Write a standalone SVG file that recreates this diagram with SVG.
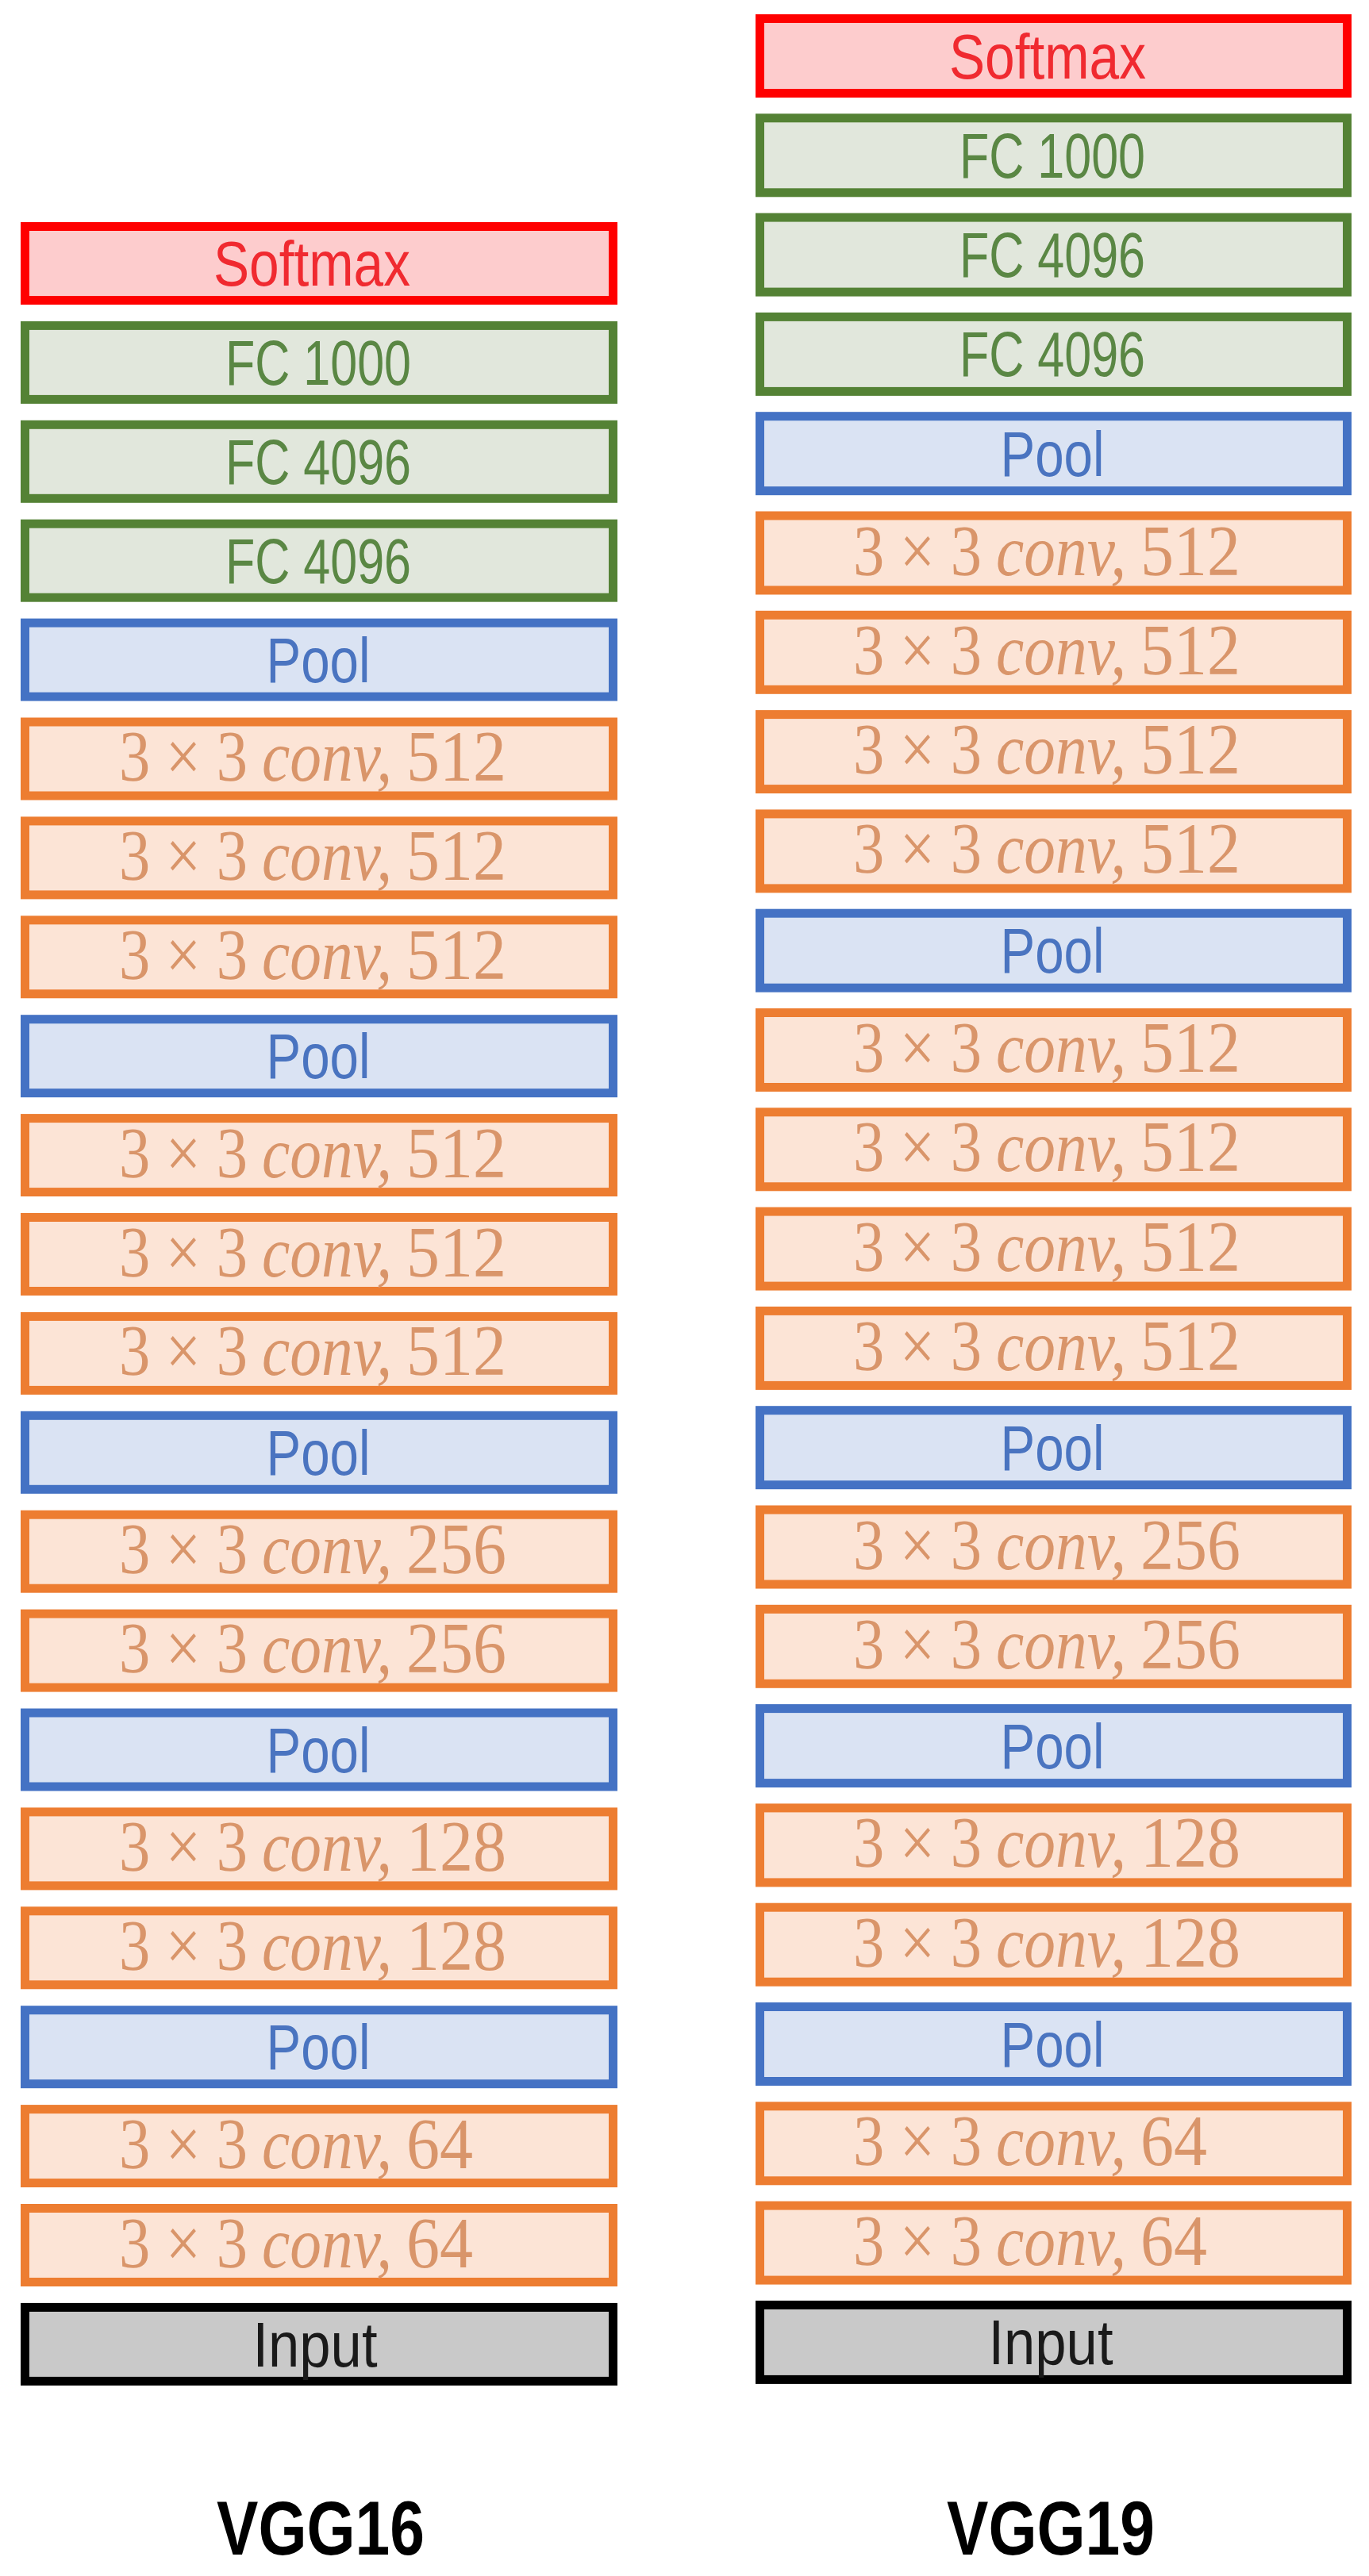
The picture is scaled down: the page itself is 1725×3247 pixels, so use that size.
<svg xmlns="http://www.w3.org/2000/svg" width="1725" height="3247" viewBox="0 0 1725 3247">
<style>
rect{stroke-width:11}
.sm{fill:#fdcccd;stroke:#ff0000}
.fc{fill:#e1e7dc;stroke:#548235}
.pl{fill:#dae3f3;stroke:#4472c4}
.cv{fill:#fce4d6;stroke:#ed7d31}
.in{fill:#c9c9c9;stroke:#000000}
text{font-family:"Liberation Sans",Arial,sans-serif;font-size:79px;text-anchor:middle}
.tsm{fill:#f02a30}
.tfc{fill:#5a8744}
.tpl{fill:#4a74c0}
.tin{fill:#1a1a1a}
.tcv{font-family:"Liberation Serif","Times New Roman",serif;font-size:90px;text-anchor:start;fill:#d9956a}
.it{font-style:italic}
.title{font-weight:bold;font-size:97px;fill:#000}
</style>
<rect width="1725" height="3247" fill="#ffffff" stroke="none"/>
<g id="vgg16">
<g id="l0"><rect class="sm" x="31.5" y="285.5" width="741" height="93"/><text class="tsm" x="393" y="360" textLength="248" lengthAdjust="spacingAndGlyphs">Softmax</text></g>
<g id="l1"><rect class="fc" x="31.5" y="410.4" width="741" height="93"/><text class="tfc" x="401" y="484.9" textLength="234" lengthAdjust="spacingAndGlyphs">FC 1000</text></g>
<g id="l2"><rect class="fc" x="31.5" y="535.3" width="741" height="93"/><text class="tfc" x="401" y="609.8" textLength="234" lengthAdjust="spacingAndGlyphs">FC 4096</text></g>
<g id="l3"><rect class="fc" x="31.5" y="660.2" width="741" height="93"/><text class="tfc" x="401" y="734.7" textLength="234" lengthAdjust="spacingAndGlyphs">FC 4096</text></g>
<g id="l4"><rect class="pl" x="31.5" y="785.1" width="741" height="93"/><text class="tpl" x="401" y="859.6" textLength="131" lengthAdjust="spacingAndGlyphs">Pool</text></g>
<g id="l5"><rect class="cv" x="31.5" y="910" width="741" height="93"/><text class="tcv" x="150" y="984" textLength="162" lengthAdjust="spacingAndGlyphs">3 × 3</text><text class="tcv it" x="330" y="984" textLength="164" lengthAdjust="spacingAndGlyphs">conv,</text><text class="tcv" x="512" y="984" textLength="126" lengthAdjust="spacingAndGlyphs">512</text></g>
<g id="l6"><rect class="cv" x="31.5" y="1034.9" width="741" height="93"/><text class="tcv" x="150" y="1108.9" textLength="162" lengthAdjust="spacingAndGlyphs">3 × 3</text><text class="tcv it" x="330" y="1108.9" textLength="164" lengthAdjust="spacingAndGlyphs">conv,</text><text class="tcv" x="512" y="1108.9" textLength="126" lengthAdjust="spacingAndGlyphs">512</text></g>
<g id="l7"><rect class="cv" x="31.5" y="1159.8" width="741" height="93"/><text class="tcv" x="150" y="1233.8" textLength="162" lengthAdjust="spacingAndGlyphs">3 × 3</text><text class="tcv it" x="330" y="1233.8" textLength="164" lengthAdjust="spacingAndGlyphs">conv,</text><text class="tcv" x="512" y="1233.8" textLength="126" lengthAdjust="spacingAndGlyphs">512</text></g>
<g id="l8"><rect class="pl" x="31.5" y="1284.7" width="741" height="93"/><text class="tpl" x="401" y="1359.2" textLength="131" lengthAdjust="spacingAndGlyphs">Pool</text></g>
<g id="l9"><rect class="cv" x="31.5" y="1409.6" width="741" height="93"/><text class="tcv" x="150" y="1483.6" textLength="162" lengthAdjust="spacingAndGlyphs">3 × 3</text><text class="tcv it" x="330" y="1483.6" textLength="164" lengthAdjust="spacingAndGlyphs">conv,</text><text class="tcv" x="512" y="1483.6" textLength="126" lengthAdjust="spacingAndGlyphs">512</text></g>
<g id="l10"><rect class="cv" x="31.5" y="1534.5" width="741" height="93"/><text class="tcv" x="150" y="1608.5" textLength="162" lengthAdjust="spacingAndGlyphs">3 × 3</text><text class="tcv it" x="330" y="1608.5" textLength="164" lengthAdjust="spacingAndGlyphs">conv,</text><text class="tcv" x="512" y="1608.5" textLength="126" lengthAdjust="spacingAndGlyphs">512</text></g>
<g id="l11"><rect class="cv" x="31.5" y="1659.4" width="741" height="93"/><text class="tcv" x="150" y="1733.4" textLength="162" lengthAdjust="spacingAndGlyphs">3 × 3</text><text class="tcv it" x="330" y="1733.4" textLength="164" lengthAdjust="spacingAndGlyphs">conv,</text><text class="tcv" x="512" y="1733.4" textLength="126" lengthAdjust="spacingAndGlyphs">512</text></g>
<g id="l12"><rect class="pl" x="31.5" y="1784.3" width="741" height="93"/><text class="tpl" x="401" y="1858.8" textLength="131" lengthAdjust="spacingAndGlyphs">Pool</text></g>
<g id="l13"><rect class="cv" x="31.5" y="1909.2" width="741" height="93"/><text class="tcv" x="150" y="1983.2" textLength="162" lengthAdjust="spacingAndGlyphs">3 × 3</text><text class="tcv it" x="330" y="1983.2" textLength="164" lengthAdjust="spacingAndGlyphs">conv,</text><text class="tcv" x="512" y="1983.2" textLength="126" lengthAdjust="spacingAndGlyphs">256</text></g>
<g id="l14"><rect class="cv" x="31.5" y="2034.1" width="741" height="93"/><text class="tcv" x="150" y="2108.1" textLength="162" lengthAdjust="spacingAndGlyphs">3 × 3</text><text class="tcv it" x="330" y="2108.1" textLength="164" lengthAdjust="spacingAndGlyphs">conv,</text><text class="tcv" x="512" y="2108.1" textLength="126" lengthAdjust="spacingAndGlyphs">256</text></g>
<g id="l15"><rect class="pl" x="31.5" y="2159" width="741" height="93"/><text class="tpl" x="401" y="2233.5" textLength="131" lengthAdjust="spacingAndGlyphs">Pool</text></g>
<g id="l16"><rect class="cv" x="31.5" y="2283.9" width="741" height="93"/><text class="tcv" x="150" y="2357.9" textLength="162" lengthAdjust="spacingAndGlyphs">3 × 3</text><text class="tcv it" x="330" y="2357.9" textLength="164" lengthAdjust="spacingAndGlyphs">conv,</text><text class="tcv" x="512" y="2357.9" textLength="126" lengthAdjust="spacingAndGlyphs">128</text></g>
<g id="l17"><rect class="cv" x="31.5" y="2408.8" width="741" height="93"/><text class="tcv" x="150" y="2482.8" textLength="162" lengthAdjust="spacingAndGlyphs">3 × 3</text><text class="tcv it" x="330" y="2482.8" textLength="164" lengthAdjust="spacingAndGlyphs">conv,</text><text class="tcv" x="512" y="2482.8" textLength="126" lengthAdjust="spacingAndGlyphs">128</text></g>
<g id="l18"><rect class="pl" x="31.5" y="2533.7" width="741" height="93"/><text class="tpl" x="401" y="2608.2" textLength="131" lengthAdjust="spacingAndGlyphs">Pool</text></g>
<g id="l19"><rect class="cv" x="31.5" y="2658.6" width="741" height="93"/><text class="tcv" x="150" y="2732.6" textLength="162" lengthAdjust="spacingAndGlyphs">3 × 3</text><text class="tcv it" x="330" y="2732.6" textLength="164" lengthAdjust="spacingAndGlyphs">conv,</text><text class="tcv" x="512" y="2732.6" textLength="84" lengthAdjust="spacingAndGlyphs">64</text></g>
<g id="l20"><rect class="cv" x="31.5" y="2783.5" width="741" height="93"/><text class="tcv" x="150" y="2857.5" textLength="162" lengthAdjust="spacingAndGlyphs">3 × 3</text><text class="tcv it" x="330" y="2857.5" textLength="164" lengthAdjust="spacingAndGlyphs">conv,</text><text class="tcv" x="512" y="2857.5" textLength="84" lengthAdjust="spacingAndGlyphs">64</text></g>
<g id="l21"><rect class="in" x="31.5" y="2908.4" width="741" height="93"/><text class="tin" x="397" y="2982.9" textLength="157" lengthAdjust="spacingAndGlyphs">Input</text></g>
</g>
<g id="vgg19">
<g id="r0"><rect class="sm" x="957.5" y="23.5" width="740" height="94"/><text class="tsm" x="1320" y="98.5" textLength="248" lengthAdjust="spacingAndGlyphs">Softmax</text></g>
<g id="r1"><rect class="fc" x="957.5" y="148.8" width="740" height="94"/><text class="tfc" x="1326" y="223.8" textLength="234" lengthAdjust="spacingAndGlyphs">FC 1000</text></g>
<g id="r2"><rect class="fc" x="957.5" y="274.1" width="740" height="94"/><text class="tfc" x="1326" y="349.1" textLength="234" lengthAdjust="spacingAndGlyphs">FC 4096</text></g>
<g id="r3"><rect class="fc" x="957.5" y="399.4" width="740" height="94"/><text class="tfc" x="1326" y="474.4" textLength="234" lengthAdjust="spacingAndGlyphs">FC 4096</text></g>
<g id="r4"><rect class="pl" x="957.5" y="524.7" width="740" height="94"/><text class="tpl" x="1326" y="599.7" textLength="131" lengthAdjust="spacingAndGlyphs">Pool</text></g>
<g id="r5"><rect class="cv" x="957.5" y="650" width="740" height="94"/><text class="tcv" x="1075" y="724.5" textLength="162" lengthAdjust="spacingAndGlyphs">3 × 3</text><text class="tcv it" x="1255" y="724.5" textLength="164" lengthAdjust="spacingAndGlyphs">conv,</text><text class="tcv" x="1437" y="724.5" textLength="126" lengthAdjust="spacingAndGlyphs">512</text></g>
<g id="r6"><rect class="cv" x="957.5" y="775.3" width="740" height="94"/><text class="tcv" x="1075" y="849.8" textLength="162" lengthAdjust="spacingAndGlyphs">3 × 3</text><text class="tcv it" x="1255" y="849.8" textLength="164" lengthAdjust="spacingAndGlyphs">conv,</text><text class="tcv" x="1437" y="849.8" textLength="126" lengthAdjust="spacingAndGlyphs">512</text></g>
<g id="r7"><rect class="cv" x="957.5" y="900.6" width="740" height="94"/><text class="tcv" x="1075" y="975.1" textLength="162" lengthAdjust="spacingAndGlyphs">3 × 3</text><text class="tcv it" x="1255" y="975.1" textLength="164" lengthAdjust="spacingAndGlyphs">conv,</text><text class="tcv" x="1437" y="975.1" textLength="126" lengthAdjust="spacingAndGlyphs">512</text></g>
<g id="r8"><rect class="cv" x="957.5" y="1025.9" width="740" height="94"/><text class="tcv" x="1075" y="1100.4" textLength="162" lengthAdjust="spacingAndGlyphs">3 × 3</text><text class="tcv it" x="1255" y="1100.4" textLength="164" lengthAdjust="spacingAndGlyphs">conv,</text><text class="tcv" x="1437" y="1100.4" textLength="126" lengthAdjust="spacingAndGlyphs">512</text></g>
<g id="r9"><rect class="pl" x="957.5" y="1151.2" width="740" height="94"/><text class="tpl" x="1326" y="1226.2" textLength="131" lengthAdjust="spacingAndGlyphs">Pool</text></g>
<g id="r10"><rect class="cv" x="957.5" y="1276.5" width="740" height="94"/><text class="tcv" x="1075" y="1351" textLength="162" lengthAdjust="spacingAndGlyphs">3 × 3</text><text class="tcv it" x="1255" y="1351" textLength="164" lengthAdjust="spacingAndGlyphs">conv,</text><text class="tcv" x="1437" y="1351" textLength="126" lengthAdjust="spacingAndGlyphs">512</text></g>
<g id="r11"><rect class="cv" x="957.5" y="1401.8" width="740" height="94"/><text class="tcv" x="1075" y="1476.3" textLength="162" lengthAdjust="spacingAndGlyphs">3 × 3</text><text class="tcv it" x="1255" y="1476.3" textLength="164" lengthAdjust="spacingAndGlyphs">conv,</text><text class="tcv" x="1437" y="1476.3" textLength="126" lengthAdjust="spacingAndGlyphs">512</text></g>
<g id="r12"><rect class="cv" x="957.5" y="1527.1" width="740" height="94"/><text class="tcv" x="1075" y="1601.6" textLength="162" lengthAdjust="spacingAndGlyphs">3 × 3</text><text class="tcv it" x="1255" y="1601.6" textLength="164" lengthAdjust="spacingAndGlyphs">conv,</text><text class="tcv" x="1437" y="1601.6" textLength="126" lengthAdjust="spacingAndGlyphs">512</text></g>
<g id="r13"><rect class="cv" x="957.5" y="1652.4" width="740" height="94"/><text class="tcv" x="1075" y="1726.9" textLength="162" lengthAdjust="spacingAndGlyphs">3 × 3</text><text class="tcv it" x="1255" y="1726.9" textLength="164" lengthAdjust="spacingAndGlyphs">conv,</text><text class="tcv" x="1437" y="1726.9" textLength="126" lengthAdjust="spacingAndGlyphs">512</text></g>
<g id="r14"><rect class="pl" x="957.5" y="1777.7" width="740" height="94"/><text class="tpl" x="1326" y="1852.7" textLength="131" lengthAdjust="spacingAndGlyphs">Pool</text></g>
<g id="r15"><rect class="cv" x="957.5" y="1903" width="740" height="94"/><text class="tcv" x="1075" y="1977.5" textLength="162" lengthAdjust="spacingAndGlyphs">3 × 3</text><text class="tcv it" x="1255" y="1977.5" textLength="164" lengthAdjust="spacingAndGlyphs">conv,</text><text class="tcv" x="1437" y="1977.5" textLength="126" lengthAdjust="spacingAndGlyphs">256</text></g>
<g id="r16"><rect class="cv" x="957.5" y="2028.3" width="740" height="94"/><text class="tcv" x="1075" y="2102.8" textLength="162" lengthAdjust="spacingAndGlyphs">3 × 3</text><text class="tcv it" x="1255" y="2102.8" textLength="164" lengthAdjust="spacingAndGlyphs">conv,</text><text class="tcv" x="1437" y="2102.8" textLength="126" lengthAdjust="spacingAndGlyphs">256</text></g>
<g id="r17"><rect class="pl" x="957.5" y="2153.6" width="740" height="94"/><text class="tpl" x="1326" y="2228.6" textLength="131" lengthAdjust="spacingAndGlyphs">Pool</text></g>
<g id="r18"><rect class="cv" x="957.5" y="2278.9" width="740" height="94"/><text class="tcv" x="1075" y="2353.4" textLength="162" lengthAdjust="spacingAndGlyphs">3 × 3</text><text class="tcv it" x="1255" y="2353.4" textLength="164" lengthAdjust="spacingAndGlyphs">conv,</text><text class="tcv" x="1437" y="2353.4" textLength="126" lengthAdjust="spacingAndGlyphs">128</text></g>
<g id="r19"><rect class="cv" x="957.5" y="2404.2" width="740" height="94"/><text class="tcv" x="1075" y="2478.7" textLength="162" lengthAdjust="spacingAndGlyphs">3 × 3</text><text class="tcv it" x="1255" y="2478.7" textLength="164" lengthAdjust="spacingAndGlyphs">conv,</text><text class="tcv" x="1437" y="2478.7" textLength="126" lengthAdjust="spacingAndGlyphs">128</text></g>
<g id="r20"><rect class="pl" x="957.5" y="2529.5" width="740" height="94"/><text class="tpl" x="1326" y="2604.5" textLength="131" lengthAdjust="spacingAndGlyphs">Pool</text></g>
<g id="r21"><rect class="cv" x="957.5" y="2654.8" width="740" height="94"/><text class="tcv" x="1075" y="2729.3" textLength="162" lengthAdjust="spacingAndGlyphs">3 × 3</text><text class="tcv it" x="1255" y="2729.3" textLength="164" lengthAdjust="spacingAndGlyphs">conv,</text><text class="tcv" x="1437" y="2729.3" textLength="84" lengthAdjust="spacingAndGlyphs">64</text></g>
<g id="r22"><rect class="cv" x="957.5" y="2780.1" width="740" height="94"/><text class="tcv" x="1075" y="2854.6" textLength="162" lengthAdjust="spacingAndGlyphs">3 × 3</text><text class="tcv it" x="1255" y="2854.6" textLength="164" lengthAdjust="spacingAndGlyphs">conv,</text><text class="tcv" x="1437" y="2854.6" textLength="84" lengthAdjust="spacingAndGlyphs">64</text></g>
<g id="r23"><rect class="in" x="957.5" y="2905.4" width="740" height="94"/><text class="tin" x="1324" y="2980.4" textLength="157" lengthAdjust="spacingAndGlyphs">Input</text></g>
</g>
<g id="connectors"></g>
<g id="labels">
<text class="title" x="404" y="3220" textLength="262" lengthAdjust="spacingAndGlyphs">VGG16</text>
<text class="title" x="1324" y="3220" textLength="262" lengthAdjust="spacingAndGlyphs">VGG19</text>
</g>
</svg>
